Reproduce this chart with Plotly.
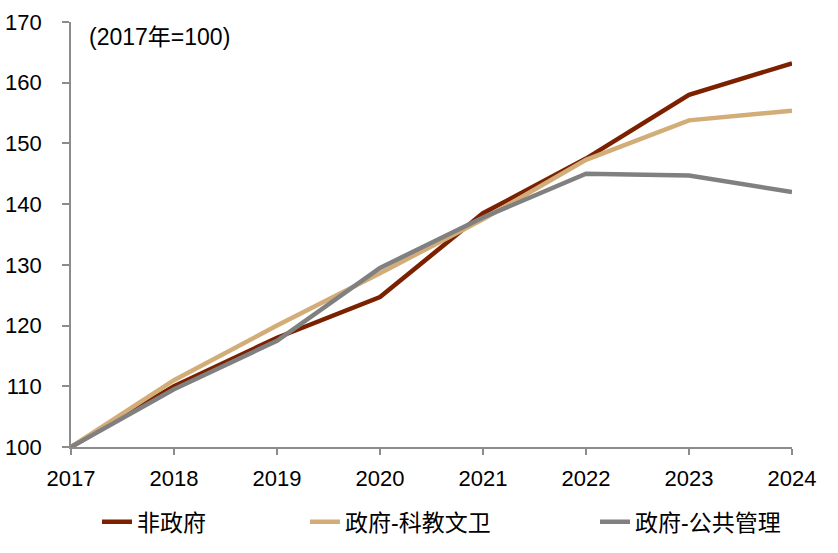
import plotly.graph_objects as go

years = [2017, 2018, 2019, 2020, 2021, 2022, 2023, 2024]
non_gov = [100, 110.0, 118.0, 124.7, 138.5, 147.5, 158.0, 163.2]
gov_edu = [100, 111.0, 120.0, 128.6, 137.5, 147.3, 153.8, 155.4]
gov_admin = [100, 109.5, 117.5, 129.5, 137.8, 145.0, 144.7, 142.0]

names = ["非政府", "政府-科教文卫", "政府-公共管理"]
colors = ["#7B2100", "#D2AD78", "#808080"]
legend_ids = ["legend", "legend2", "legend3"]

fig = go.Figure()
for name, vals, c, lg in zip(names, [non_gov, gov_edu, gov_admin], colors, legend_ids):
    fig.add_trace(go.Scatter(x=years, y=vals, mode="lines", name=name,
                             line=dict(color=c, width=4.5), legend=lg))

font_fam = "Liberation Sans, Arial, Noto Sans CJK SC, sans-serif"
W = 721.0
def lx(px):
    return (px - 71) / W

leg_common = dict(orientation="h", yanchor="middle", y=-0.176, xanchor="left",
                  font=dict(size=23), bgcolor="rgba(0,0,0,0)")
fig.update_layout(
    width=838, height=553,
    margin=dict(l=71, r=46, t=22, b=106, autoexpand=False),
    plot_bgcolor="white", paper_bgcolor="white",
    font=dict(family=font_fam, size=22, color="black"),
    showlegend=True,
    legend=dict(x=lx(97), **leg_common),
    legend2=dict(x=lx(305), **leg_common),
    legend3=dict(x=lx(595), **leg_common),
    xaxis=dict(range=[2017, 2024], tickmode="array", tickvals=years,
               showline=True, linecolor="#8C8C8C", linewidth=1.6,
               ticks="outside", tickcolor="#8C8C8C", ticklen=6, tickwidth=1.6,
               ticklabelstandoff=5,
               showgrid=False, zeroline=False),
    yaxis=dict(range=[100, 170], dtick=10, showline=True, linecolor="#8C8C8C",
               linewidth=1.6, ticks="outside", tickcolor="#8C8C8C", ticklen=7, tickwidth=1.6,
               ticklabelstandoff=16,
               showgrid=False, zeroline=False),
    annotations=[dict(text="(2017年=100)", x=lx(87), y=0.965, xref="paper", yref="paper",
                      xanchor="left", yanchor="middle", showarrow=False,
                      font=dict(size=23))],
)

fig.write_html("out.html", config={"displayModeBar": False},
               post_script="document.body.style.margin='0';document.body.style.padding='0';")
